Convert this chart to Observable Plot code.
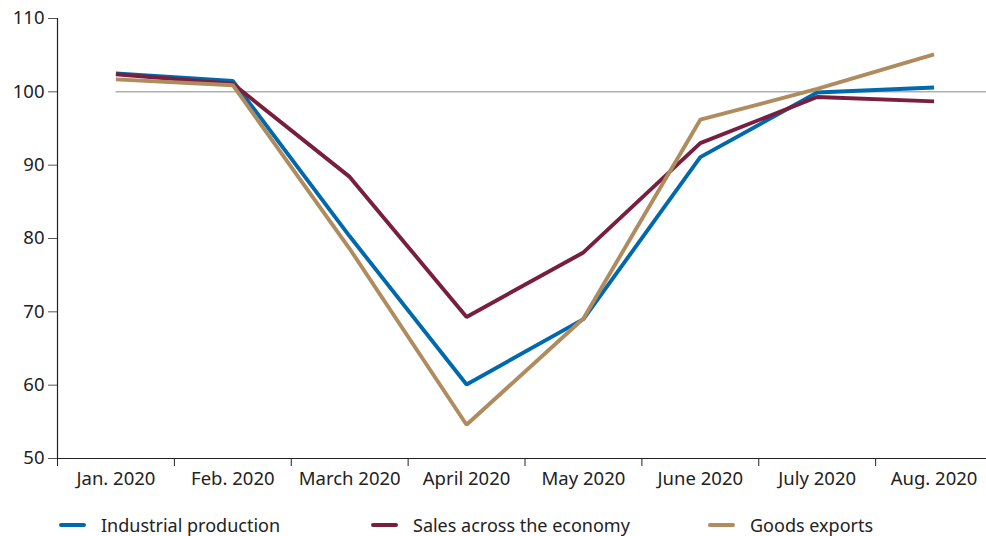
<!DOCTYPE html>
<html>
<head>
<meta charset="utf-8">
<script src="https://cdn.jsdelivr.net/npm/d3@7"></script>
<script src="https://cdn.jsdelivr.net/npm/@observablehq/plot@0.6"></script>
<style>
  body { margin: 0; background: #fff; }
  #wrap { position: relative; width: 986px; height: 536px; font-family: "Noto Sans", sans-serif; color: #222; }
  #legend { position: absolute; left: 0; top: 510px; width: 986px; height: 26px; font-size: 18px; }
  .item { position: absolute; top: 0; display: flex; align-items: center; height: 30px; white-space: nowrap; }
  .sw { width: 27px; height: 4px; border-radius: 2px; margin-right: 15px; }
</style>
</head>
<body>
<div id="wrap">
  <div id="chart"></div>
  <div id="legend"></div>
</div>
<script>
// Monthly index values, 2020
const months = ["Jan. 2020", "Feb. 2020", "March 2020", "April 2020", "May 2020", "June 2020", "July 2020", "Aug. 2020"];
const industrial = [102.5, 101.5, 80.3, 60.1, 69.0, 91.1, 99.9, 100.6];
const sales = [102.4, 101.1, 88.4, 69.3, 78.1, 93.0, 99.3, 98.7];
const goods = [101.7, 100.9, 78.6, 54.6, 69.1, 96.2, 100.4, 105.1];
const yTicks = [50, 60, 70, 80, 90, 100, 110];

const seriesNames = ["Industrial production", "Sales across the economy", "Goods exports"];
const seriesColors = ["#0069ad", "#781f40", "#b08b5e"];
const seriesValues = [industrial, sales, goods];
const legendLeft = [59, 371, 708];

const rows = seriesNames.flatMap((name, s) =>
  seriesValues[s].map((v, i) => ({series: name, i, v}))
);
const bounds = d3.range(months.length + 1).map(k => k - 0.5);

const chart = Plot.plot({
  width: 986,
  height: 505,
  marginLeft: 57,
  marginRight: 0,
  marginTop: 18,
  marginBottom: 47,
  style: {fontFamily: "Noto Sans, sans-serif", color: "#222", background: "#fff"},
  x: {domain: [-0.5, months.length - 0.5], range: [57, 992]},
  y: {domain: [50, 110], range: [458, 18]},
  color: {domain: seriesNames, range: seriesColors},
  marks: [
    Plot.ruleY([100], {x1: 0, x2: months.length - 0.5, stroke: "#8a8a8a", strokeWidth: 1}),
    Plot.ruleX([-0.5], {y1: 50, y2: 110, stroke: "#222", strokeWidth: 1.2}),
    Plot.ruleY([50], {stroke: "#222", strokeWidth: 1.2}),
    Plot.axisY({ticks: yTicks, tickSize: 9, tickPadding: 4, fontSize: 18.5, label: null, stroke: "#555"}),
    Plot.axisX({ticks: bounds, tickSize: 8, tickFormat: () => "", label: null, stroke: "#222"}),
    Plot.axisX({ticks: d3.range(months.length), tickSize: 0, tickPadding: 13, tickFormat: i => months[i], fontSize: 18.5, label: null}),
    Plot.line(rows, {x: "i", y: "v", z: "series", stroke: "series", strokeWidth: 3.9, strokeLinejoin: "miter", strokeLinecap: "butt"})
  ]
});
document.getElementById("chart").appendChild(chart);

const legend = d3.select("#legend");
seriesNames.forEach((name, s) => {
  const item = legend.append("div").attr("class", "item").style("left", legendLeft[s] + "px");
  item.append("div").attr("class", "sw").style("background", seriesColors[s]);
  item.append("span").text(name);
});
</script>
</body>
</html>
